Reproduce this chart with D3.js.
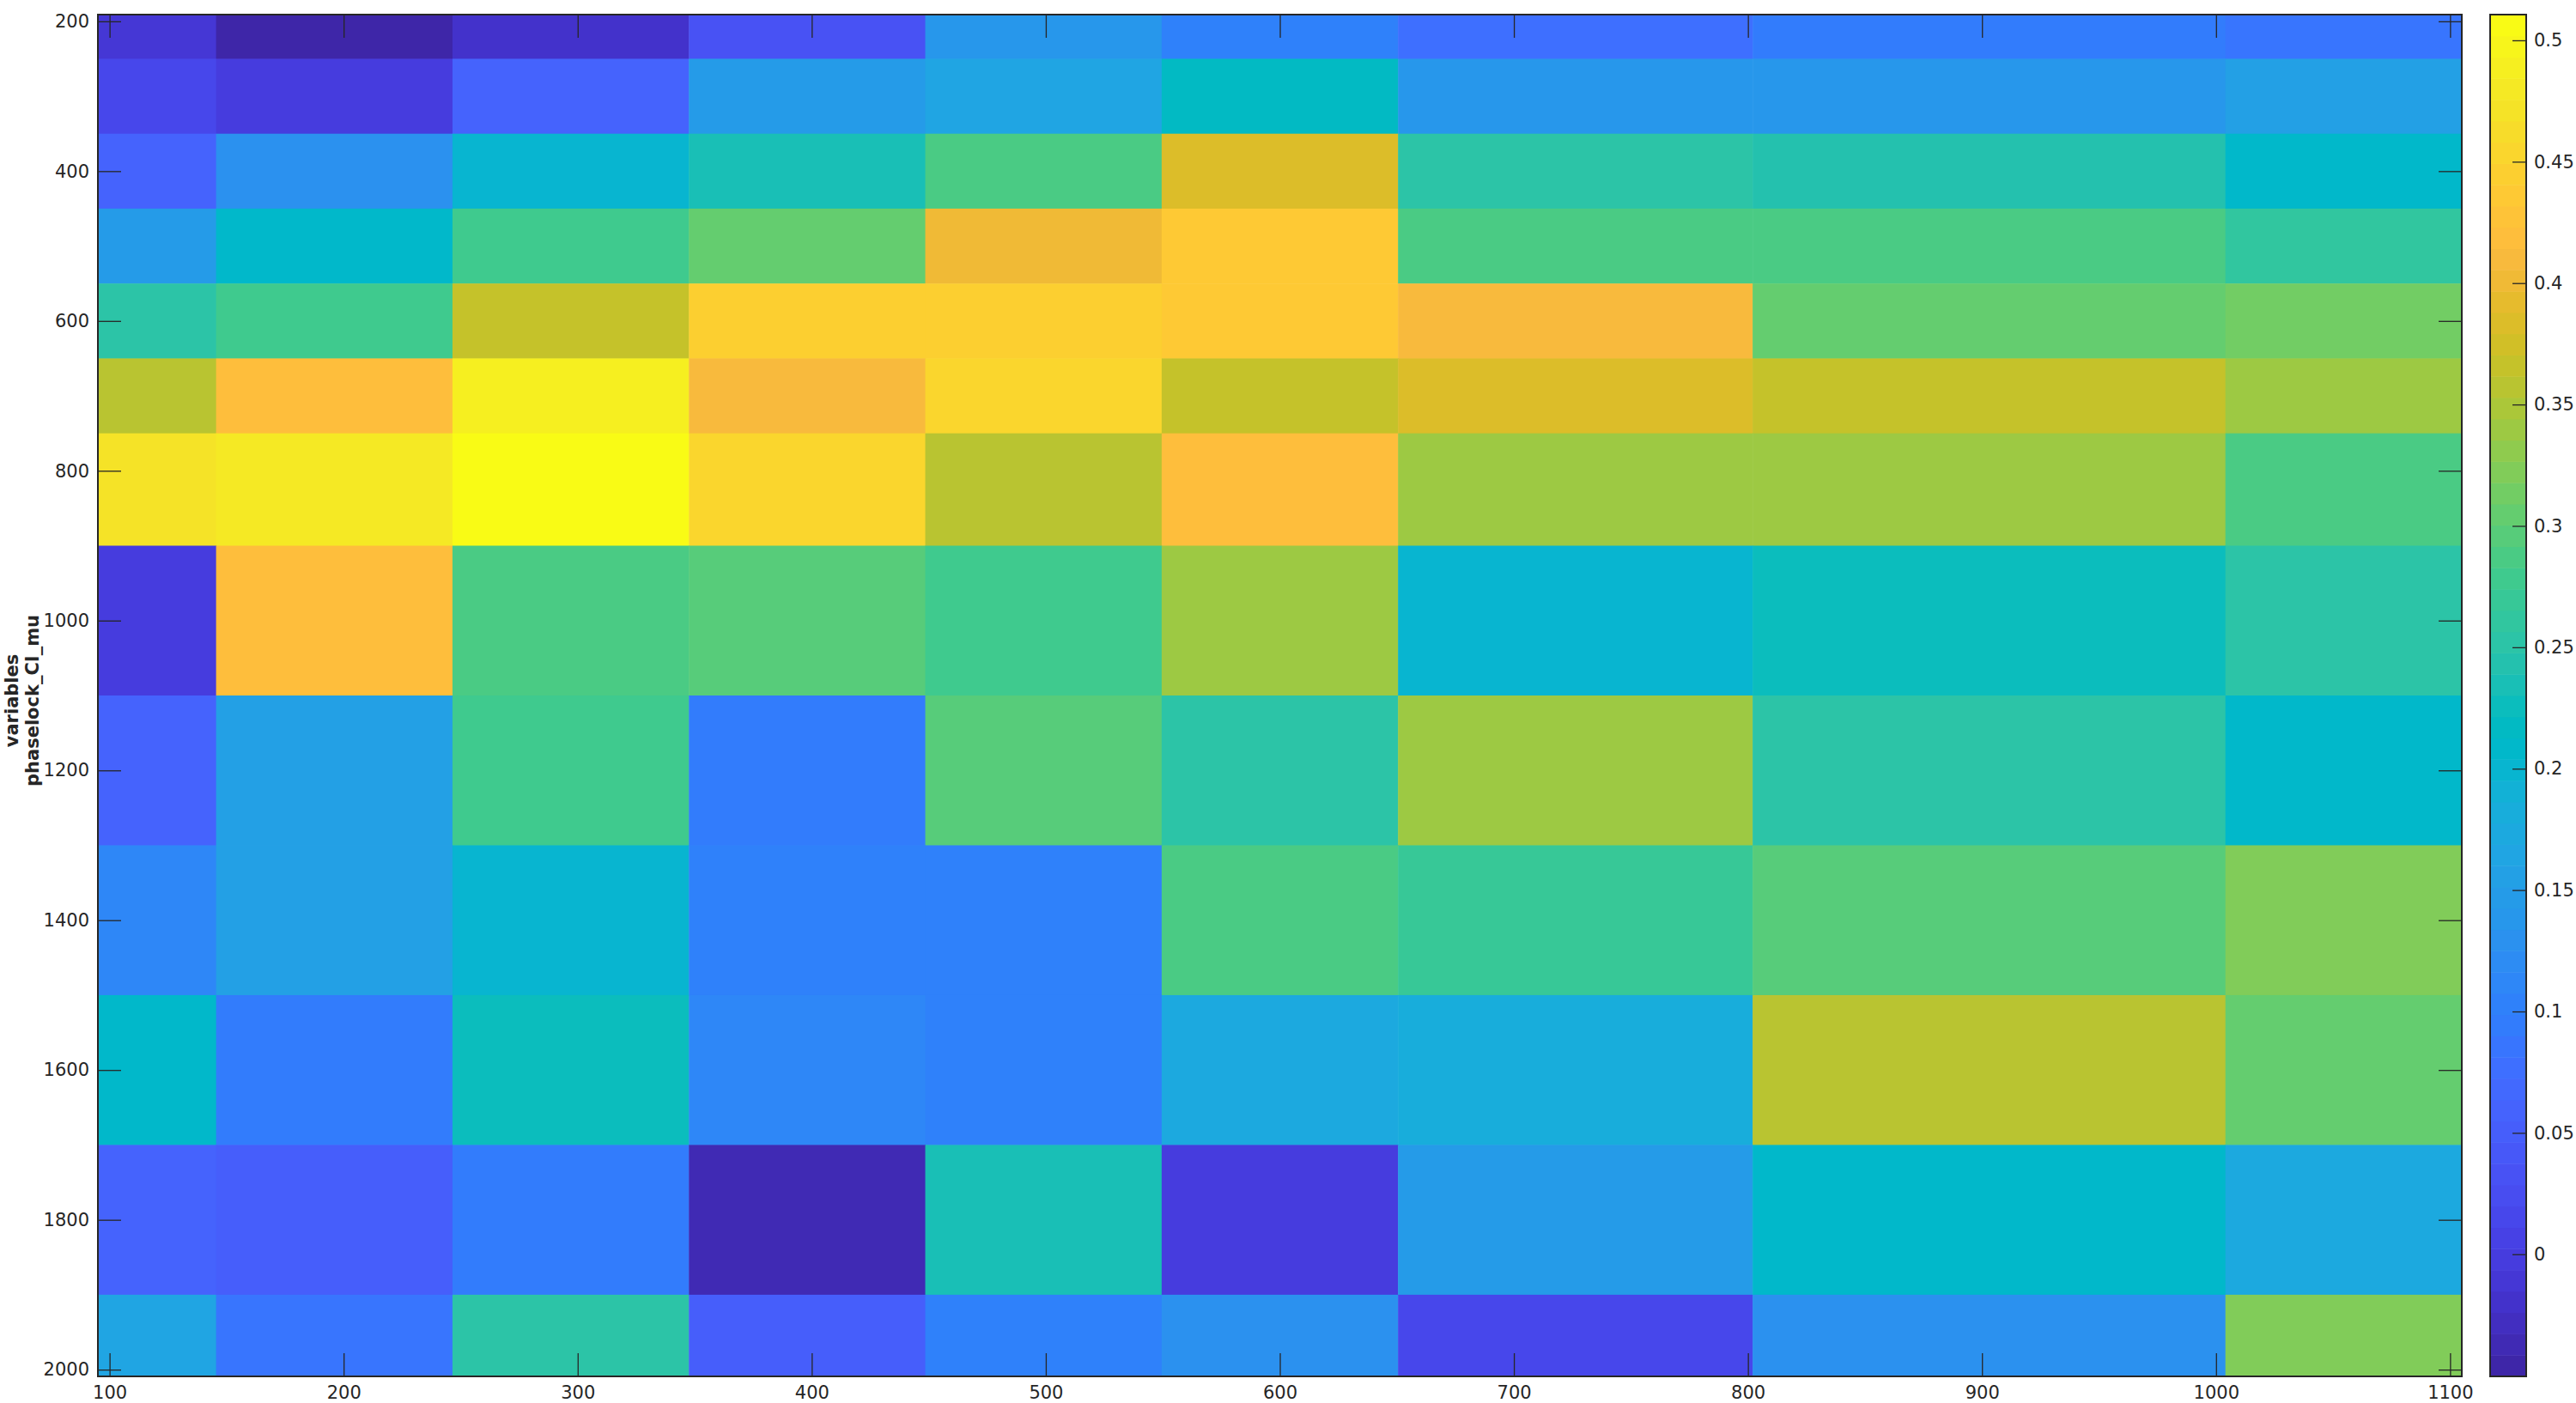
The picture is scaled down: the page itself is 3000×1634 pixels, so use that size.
<!DOCTYPE html>
<html>
<head>
<meta charset="utf-8">
<script src="https://cdn.jsdelivr.net/npm/d3@7"></script>
<style>
  body { margin: 0; background: #fff; }
  text { font-family: "DejaVu Sans", sans-serif; fill: #262626; }
</style>
</head>
<body>
<div id="chart"></div>
<script>

// column centres (x) and row centres (y)
var xCenters = [100, 200, 300, 400, 500, 600, 700, 900, 1100];
var yCenters = [200, 300, 400, 500, 600, 700, 800, 1000, 1200, 1400, 1600, 1800, 2000];

// one row per y centre, one value per x centre
var cellValues = [
  [-0.011, -0.0503, -0.020, 0.034, 0.138, 0.103, 0.080, 0.094, 0.083],
  [0.015, -0.002, 0.059, 0.143, 0.168, 0.217, 0.138, 0.138, 0.155],
  [0.055, 0.130, 0.200, 0.235, 0.290, 0.380, 0.255, 0.244, 0.208],
  [0.147, 0.208, 0.279, 0.305, 0.397, 0.432, 0.283, 0.283, 0.261],
  [0.248, 0.279, 0.366, 0.445, 0.443, 0.436, 0.410, 0.305, 0.314],
  [0.357, 0.419, 0.485, 0.410, 0.454, 0.370, 0.380, 0.366, 0.340],
  [0.471, 0.476, 0.5106, 0.454, 0.357, 0.415, 0.340, 0.340, 0.287],
  [-0.002, 0.419, 0.290, 0.296, 0.274, 0.340, 0.199, 0.226, 0.255],
  [0.059, 0.160, 0.279, 0.094, 0.300, 0.255, 0.340, 0.252, 0.212],
  [0.116, 0.155, 0.199, 0.103, 0.103, 0.290, 0.270, 0.300, 0.322],
  [0.208, 0.094, 0.226, 0.112, 0.103, 0.177, 0.182, 0.357, 0.305],
  [0.055, 0.050, 0.094, -0.033, 0.235, -0.002, 0.147, 0.204, 0.173],
  [0.168, 0.086, 0.252, 0.050, 0.103, 0.130, 0.015, 0.125, 0.322]
];

var xTicks = [100, 200, 300, 400, 500, 600, 700, 800, 900, 1000, 1100];
var yTicks = [200, 400, 600, 800, 1000, 1200, 1400, 1600, 1800, 2000];
var cbarTicks = [0, 0.05, 0.1, 0.15, 0.2, 0.25, 0.3, 0.35, 0.4, 0.45, 0.5];
var yLabelLines = ["variables", "phaselock_CI_mu"];

// parula, 64 colours
var parula = [
  [0.2422,0.1504,0.6603],[0.2504,0.1650,0.7076],[0.2578,0.1818,0.7511],[0.2647,0.1978,0.7952],
  [0.2706,0.2147,0.8364],[0.2751,0.2342,0.8710],[0.2783,0.2559,0.8991],[0.2803,0.2782,0.9221],
  [0.2813,0.3006,0.9414],[0.2810,0.3228,0.9579],[0.2795,0.3447,0.9717],[0.2760,0.3667,0.9829],
  [0.2699,0.3892,0.9906],[0.2602,0.4123,0.9952],[0.2440,0.4358,0.9988],[0.2206,0.4603,0.9973],
  [0.1963,0.4847,0.9892],[0.1834,0.5074,0.9798],[0.1786,0.5289,0.9682],[0.1764,0.5499,0.9520],
  [0.1687,0.5703,0.9359],[0.1540,0.5902,0.9218],[0.1460,0.6091,0.9079],[0.1380,0.6276,0.8973],
  [0.1248,0.6459,0.8883],[0.1113,0.6635,0.8763],[0.0952,0.6798,0.8598],[0.0689,0.6948,0.8394],
  [0.0297,0.7082,0.8163],[0.0036,0.7203,0.7917],[0.0067,0.7312,0.7660],[0.0433,0.7411,0.7394],
  [0.0964,0.7500,0.7120],[0.1408,0.7584,0.6842],[0.1717,0.7670,0.6554],[0.1938,0.7758,0.6251],
  [0.2161,0.7843,0.5923],[0.2470,0.7918,0.5567],[0.2906,0.7973,0.5188],[0.3406,0.8008,0.4789],
  [0.3909,0.8029,0.4354],[0.4456,0.8024,0.3909],[0.5044,0.7993,0.3480],[0.5616,0.7942,0.3045],
  [0.6174,0.7876,0.2612],[0.6720,0.7793,0.2227],[0.7242,0.7698,0.1910],[0.7738,0.7598,0.1646],
  [0.8203,0.7498,0.1535],[0.8634,0.7406,0.1596],[0.9035,0.7330,0.1774],[0.9393,0.7288,0.2100],
  [0.9728,0.7298,0.2394],[0.9956,0.7434,0.2371],[0.9970,0.7659,0.2199],[0.9952,0.7893,0.2028],
  [0.9892,0.8136,0.1885],[0.9786,0.8386,0.1766],[0.9676,0.8639,0.1643],[0.9610,0.8890,0.1537],
  [0.9597,0.9135,0.1423],[0.9628,0.9373,0.1265],[0.9691,0.9606,0.1064],[0.9769,0.9839,0.0805]
].map(function(c){ return d3.rgb(c[0]*255, c[1]*255, c[2]*255).formatHex(); });

var W = 3000, H = 1634;
var plot = {left: 114, top: 17, right: 2867, bottom: 1603};
var cbar = {left: 2900, right: 2942};
var tickLen = 27;

var svg = d3.select("#chart").append("svg")
    .attr("width", W)
    .attr("height", H);

var x = d3.scaleLinear().domain([95, 1105]).range([plot.left, plot.right]);
var y = d3.scaleLinear().domain([191, 2009]).range([plot.top, plot.bottom]);
// the image columns are stretched so the outer centres sit on the x limits
var xImg = d3.scaleLinear().domain(d3.extent(xCenters)).range(x.range());

var allVals = d3.merge(cellValues);
var cmin = d3.min(allVals), cmax = d3.max(allVals);
var color = d3.scaleQuantize().domain([cmin, cmax]).range(parula);

// cell edges halfway between centres
function edges(c) {
  var e = [c[0] - (c[1] - c[0]) / 2];
  for (var i = 1; i < c.length; i++) e.push((c[i - 1] + c[i]) / 2);
  e.push(c[c.length - 1] + (c[c.length - 1] - c[c.length - 2]) / 2);
  return e;
}
var xe = edges(xCenters), ye = edges(yCenters);

svg.append("clipPath").attr("id", "clip")
  .append("rect")
    .attr("x", plot.left).attr("y", plot.top)
    .attr("width", plot.right - plot.left)
    .attr("height", plot.bottom - plot.top);

var cells = [];
cellValues.forEach(function(row, r) {
  row.forEach(function(v, c) { cells.push({r: r, c: c, v: v}); });
});

svg.append("g").attr("clip-path", "url(#clip)")
  .selectAll("rect")
  .data(cells)
  .enter().append("rect")
    .attr("x", function(d) { return xImg(xe[d.c]); })
    .attr("y", function(d) { return y(ye[d.r]); })
    .attr("width", function(d) { return xImg(xe[d.c + 1]) - xImg(xe[d.c]) + 0.5; })
    .attr("height", function(d) { return y(ye[d.r + 1]) - y(ye[d.r]) + 0.5; })
    .style("fill", function(d) { return color(d.v); });

// axes, ticks pointing inward on all four sides
function styleAxis(g) {
  g.select(".domain").remove();
  g.selectAll(".tick line").attr("stroke", "#262626").attr("stroke-width", 1.3);
  g.selectAll(".tick text").style("font-size", "21px").attr("fill", "#262626");
}

svg.append("g")
    .attr("transform", "translate(0," + plot.bottom + ")")
    .call(d3.axisBottom(x).tickValues(xTicks).tickSize(-tickLen).tickPadding(11).tickFormat(d3.format("d")))
    .call(styleAxis);

svg.append("g")
    .attr("transform", "translate(0," + plot.top + ")")
    .call(d3.axisTop(x).tickValues(xTicks).tickSize(-tickLen).tickFormat(""))
    .call(styleAxis);

svg.append("g")
    .attr("transform", "translate(" + plot.left + ",0)")
    .call(d3.axisLeft(y).tickValues(yTicks).tickSize(-tickLen).tickPadding(10).tickFormat(d3.format("d")))
    .call(styleAxis);

svg.append("g")
    .attr("transform", "translate(" + plot.right + ",0)")
    .call(d3.axisRight(y).tickValues(yTicks).tickSize(-tickLen).tickFormat(""))
    .call(styleAxis);

svg.append("rect")
    .attr("x", plot.left).attr("y", plot.top)
    .attr("width", plot.right - plot.left)
    .attr("height", plot.bottom - plot.top)
    .style("fill", "none")
    .style("stroke", "#262626")
    .style("stroke-width", 2);

// y label, two bold lines
svg.selectAll(".ylab")
  .data(yLabelLines)
  .enter().append("text")
    .attr("class", "ylab")
    .attr("transform", function(d, i) {
      return "translate(" + (21 + i * 24) + "," + 816 + ") rotate(-90)";
    })
    .style("text-anchor", "middle")
    .style("font-size", "21px")
    .style("font-weight", "bold")
    .text(function(d) { return d; });

// colour bar
var cy = d3.scaleLinear().domain([cmin, cmax]).range([plot.bottom, plot.top]);
var step = (cmax - cmin) / parula.length;

svg.append("g").selectAll("rect")
  .data(parula)
  .enter().append("rect")
    .attr("x", cbar.left)
    .attr("width", cbar.right - cbar.left)
    .attr("y", function(d, i) { return cy(cmin + (i + 1) * step); })
    .attr("height", function(d, i) { return cy(cmin + i * step) - cy(cmin + (i + 1) * step) + 0.5; })
    .style("fill", function(d) { return d; });

svg.append("g")
    .attr("transform", "translate(" + cbar.right + ",0)")
    .call(d3.axisRight(cy).tickValues(cbarTicks).tickSize(-16).tickPadding(9)
      .tickFormat(function(d) { return String(+d.toFixed(2)); }))
    .call(styleAxis);

svg.selectAll(".tick text").attr("font-family", null);

svg.append("rect")
    .attr("x", cbar.left).attr("y", plot.top)
    .attr("width", cbar.right - cbar.left)
    .attr("height", plot.bottom - plot.top)
    .style("fill", "none")
    .style("stroke", "#262626")
    .style("stroke-width", 2);

</script>
</body>
</html>
